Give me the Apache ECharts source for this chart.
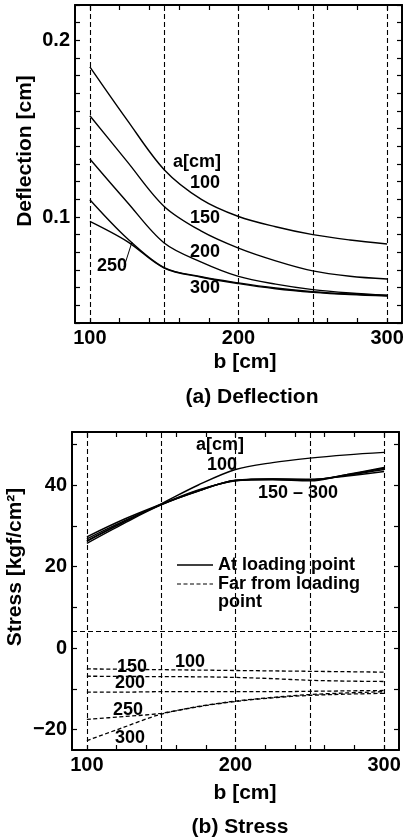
<!DOCTYPE html>
<html>
<head>
<meta charset="utf-8">
<script src="https://cdn.jsdelivr.net/npm/echarts@6/dist/echarts.min.js"></script>
<style>
html,body{margin:0;padding:0;background:#fff;}
#chart{width:405px;height:837px;}
</style>
</head>
<body>
<div id="chart"></div>
<script>
// b [cm] sample points
var bCm = [100, 125, 150, 175, 200, 225, 250, 275, 300];

// (a) deflection [cm], one array per a [cm]
var defl100 = [0.185, 0.155, 0.1268, 0.110, 0.1003, 0.0945, 0.0900, 0.0870, 0.0847];
var defl150 = [0.1573, 0.1315, 0.106, 0.092, 0.0824, 0.0752, 0.0695, 0.0665, 0.0649];
var defl200 = [0.1328, 0.1085, 0.0853, 0.0745, 0.0664, 0.0620, 0.0589, 0.0570, 0.0557];
var defl250 = [0.1098, 0.0880, 0.0714, 0.0662, 0.0627, 0.0598, 0.0577, 0.0564, 0.0556];
var defl300 = [0.0975, 0.0862, 0.0711, 0.0659, 0.0623, 0.0594, 0.0574, 0.0561, 0.0553];

// (b) stress at loading point [kgf/cm2]
var sAt100 = [26.3, 31.0, 35.4, 40.0, 43.8, 45.5, 46.6, 47.4, 48.0];
var sAt150 = [27.3, 31.6, 35.3, 38.8, 41.0, 41.5, 41.4, 42.2, 43.3];
var sAt200 = [26.8, 31.2, 35.2, 38.6, 41.1, 41.4, 41.2, 42.4, 43.8];
var sAt250 = [26.2, 30.9, 35.2, 38.5, 41.2, 41.5, 41.3, 42.5, 44.1];
var sAt300 = [25.7, 30.6, 35.1, 38.5, 41.1, 41.3, 41.0, 42.6, 44.3];

// (b) stress far from loading point
var sFar100 = [-5.1, -5.2, -5.3, -5.4, -5.5, -5.6, -5.7, -5.8, -5.9];
var sFar150 = [-6.9, -6.95, -7.0, -7.05, -7.2, -7.5, -7.9, -8.1, -8.2];
var sFar200 = [-10.8, -10.8, -10.7, -10.7, -10.7, -10.7, -10.6, -10.5, -10.4];
var sFar250 = [-17.5, -16.8, -16.0, -14.3, -13.0, -12.1, -11.4, -11.0, -10.7];
var sFar300 = [-22.7, -19.4, -16.2, -14.4, -13.1, -12.2, -11.6, -11.3, -11.1];

// ticks / labels / reference lines
var bTicks = [100, 120, 140, 160, 180, 200, 220, 240, 260, 280, 300];
var bLabels = [100, 200, 300];
var bGrid = [100, 150, 200, 250, 300];
var deflTicks = [0.04, 0.05, 0.06, 0.07, 0.08, 0.09, 0.1, 0.11, 0.12, 0.13, 0.14, 0.15, 0.16, 0.17, 0.18, 0.19, 0.2, 0.21, 0.22];
var deflLabels = [0.1, 0.2];
var stressTicks = [-20, -10, 0, 10, 20, 30, 40, 50];
var stressLabels = [-20, 0, 20, 40];
var stressRefLine = [4.2];

var FONT = '"Liberation Sans", Arial, sans-serif';
var chart = echarts.init(document.getElementById('chart'));

function pairs(ys) {
    return bCm.map(function (b, i) { return [b, ys[i]]; });
}

function frameAxis(grid, pos, min, max, ticks, labels, show) {
    return {
        type: 'value',
        gridIndex: grid,
        position: pos,
        min: min,
        max: max,
        axisLine: {show: true, onZero: false, lineStyle: {color: '#000', width: 2}},
        axisTick: {show: true, inside: true, length: 5, customValues: ticks, lineStyle: {color: '#000', width: 1.2}},
        axisLabel: {
            show: show,
            customValues: labels,
            margin: 5,
            color: '#000',
            fontFamily: FONT,
            fontWeight: 'bold',
            fontSize: 20,
            formatter: function (v) { return String(v).replace('-', '\u2212'); }
        },
        splitLine: {show: false}
    };
}

function solid(name, ys, xi, yi) {
    return {
        name: name, type: 'line', xAxisIndex: xi, yAxisIndex: yi,
        data: pairs(ys), smooth: 0.33, symbol: 'none', silent: true,
        lineStyle: {color: '#000', width: 1.4}
    };
}

function dashed(name, ys, xi, yi) {
    return {
        name: name, type: 'line', xAxisIndex: xi, yAxisIndex: yi,
        data: pairs(ys), smooth: 0.33, symbol: 'none', silent: true,
        lineStyle: {color: '#000', width: 1.3, type: [4, 2.5]}
    };
}

function gridLines(xi, yi, extraY) {
    var d = bGrid.map(function (v) { return {xAxis: v}; });
    (extraY || []).forEach(function (v) { d.push({yAxis: v}); });
    return {
        type: 'line', xAxisIndex: xi, yAxisIndex: yi, data: [], silent: true,
        markLine: {
            symbol: 'none', silent: true, animation: false,
            label: {show: false},
            lineStyle: {color: '#000', width: 1.1, type: [5, 3]},
            data: d
        }
    };
}

function txt(s, x, y, size, rot) {
    return {
        type: 'text', x: x, y: y, rotation: rot || 0, silent: true,
        style: {
            text: s, fill: '#000', align: 'center', verticalAlign: 'middle',
            fontFamily: FONT, fontWeight: 'bold', fontSize: size
        }
    };
}

function leftTxt(s, x, y) {
    return {
        type: 'text', x: x, y: y, silent: true,
        style: {text: s, fill: '#000', align: 'left', verticalAlign: 'middle', fontFamily: FONT, fontWeight: 'bold', fontSize: 18}
    };
}

var option = {
    backgroundColor: '#fff',
    animation: false,
    grid: [
        {left: 75, top: 5, width: 327, height: 318, outerBoundsMode: 'none'},
        {left: 72, top: 432, width: 327, height: 318, outerBoundsMode: 'none'}
    ],
    xAxis: [
        frameAxis(0, 'bottom', 90, 310, bTicks, bLabels, true),
        frameAxis(0, 'top', 90, 310, bTicks, bLabels, false),
        frameAxis(1, 'bottom', 90, 310, bTicks, bLabels, true),
        frameAxis(1, 'top', 90, 310, bTicks, bLabels, false)
    ],
    yAxis: [
        frameAxis(0, 'left', 0.04, 0.22, deflTicks, deflLabels, true),
        frameAxis(0, 'right', 0.04, 0.22, deflTicks, deflLabels, false),
        frameAxis(1, 'left', -25, 53, stressTicks, stressLabels, true),
        frameAxis(1, 'right', -25, 53, stressTicks, stressLabels, false)
    ],
    series: [
        gridLines(0, 0),
        solid('a=100', defl100, 0, 0),
        solid('a=150', defl150, 0, 0),
        solid('a=200', defl200, 0, 0),
        solid('a=250', defl250, 0, 0),
        solid('a=300', defl300, 0, 0),

        gridLines(2, 2, stressRefLine),
        solid('At loading point', sAt100, 2, 2),
        solid('At loading point', sAt150, 2, 2),
        solid('At loading point', sAt200, 2, 2),
        solid('At loading point', sAt250, 2, 2),
        solid('At loading point', sAt300, 2, 2),
        dashed('Far from loading point', sFar100, 2, 2),
        dashed('Far from loading point', sFar150, 2, 2),
        dashed('Far from loading point', sFar200, 2, 2),
        dashed('Far from loading point', sFar250, 2, 2),
        dashed('Far from loading point', sFar300, 2, 2)
    ],
    graphic: [
        // (a) deflection
        txt('Deflection [cm]', 25, 151, 21, Math.PI / 2),
        txt('b [cm]', 245, 362, 21),
        txt('(a) Deflection', 252, 397, 21),
        txt('a[cm]', 197, 162, 18),
        txt('100', 205, 183, 18),
        txt('150', 205, 218, 18),
        txt('200', 205, 252, 18),
        txt('300', 205, 288, 18),
        txt('250', 112, 266, 18),
        {type: 'line', silent: true, shape: {x1: 124, y1: 267, x2: 132, y2: 242}, style: {stroke: '#000', lineWidth: 1}},

        // (b) stress
        txt('Stress [kgf/cm\u00b2]', 15, 567, 21, Math.PI / 2),
        txt('b [cm]', 245, 793, 21),
        txt('(b) Stress', 240, 827, 21),
        txt('a[cm]', 220, 445, 18),
        txt('100', 222, 465, 18),
        txt('150 \u2013 300', 298, 493, 18),
        {type: 'line', silent: true, shape: {x1: 177, y1: 565, x2: 213, y2: 565}, style: {stroke: '#000', lineWidth: 1.6}},
        leftTxt('At loading point', 218, 565),
        {type: 'line', silent: true, shape: {x1: 177, y1: 584, x2: 213, y2: 584}, style: {stroke: '#000', lineWidth: 1.2, lineDash: [4, 2.5]}},
        leftTxt('Far from loading', 218, 584),
        leftTxt('point', 218, 602),
        txt('150', 132, 667, 18),
        txt('100', 190, 662, 18),
        txt('200', 130, 683, 18),
        txt('250', 128, 710, 18),
        txt('300', 130, 738, 18)
    ]
};

chart.setOption(option);
</script>
</body>
</html>
